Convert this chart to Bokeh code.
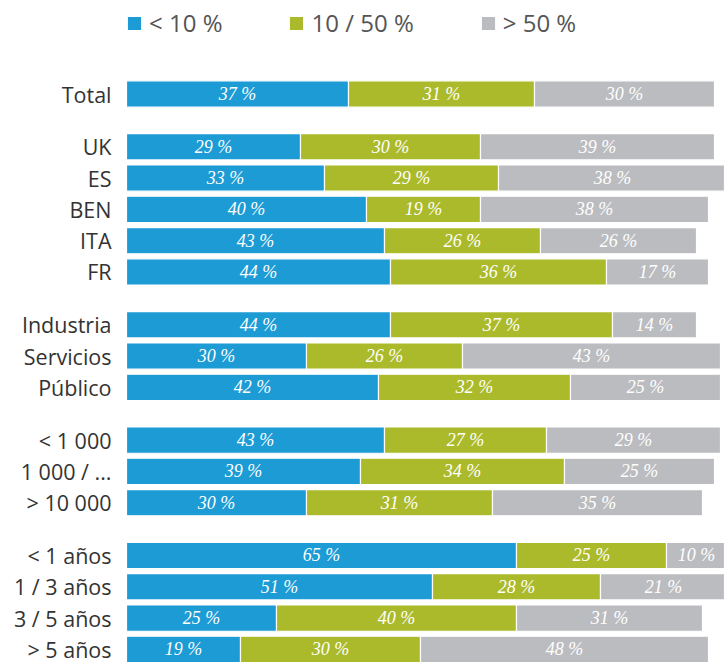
from bokeh.plotting import figure
from bokeh.models import ColumnDataSource, Range1d, Legend, LegendItem
from bokeh.core.properties import value
from bokeh.embed import file_html
from bokeh.resources import INLINE

categories = ["Total", "UK", "ES", "BEN", "ITA", "FR",
              "Industria", "Servicios", "Público",
              "< 1 000", "1 000 / ...", "> 10 000",
              "< 1 años", "1 / 3 años", "3 / 5 años", "> 5 años"]
group_ids = [0, 1, 1, 1, 1, 1, 2, 2, 2, 3, 3, 3, 4, 4, 4, 4]
low = [37, 29, 33, 40, 43, 44, 44, 30, 42, 43, 39, 30, 65, 51, 25, 19]
mid = [31, 30, 29, 19, 26, 36, 37, 26, 32, 27, 34, 31, 25, 28, 40, 30]
high = [30, 39, 38, 38, 26, 17, 14, 43, 25, 29, 25, 35, 10, 21, 31, 48]
series_names = ["< 10 %", "10 / 50 %", "> 50 %"]
colors = ["#1c9bd4", "#abba2b", "#bbbcbf"]

GAP = 0.686
ypos = [i + g * GAP for i, g in enumerate(group_ids)]

l0 = [0] * len(low)
l1 = low
l2 = [a + b for a, b in zip(low, mid)]
r2 = [a + b + c for a, b, c in zip(low, mid, high)]

src = ColumnDataSource(dict(
    y=ypos, cat=categories,
    l0=l0, r0=l1, l1=l1, r1=l2, l2=l2, r2=r2,
    c0=[(a + b) / 2 for a, b in zip(l0, l1)],
    c1=[(a + b) / 2 for a, b in zip(l1, l2)],
    c2=[(a + b) / 2 for a, b in zip(l2, r2)],
    t0=[f"{v} %" for v in low],
    t1=[f"{v} %" for v in mid],
    t2=[f"{v} %" for v in high],
))

W, H = 724, 663
PX = 6.0
LEFT = 126
x_end = (W - LEFT) / PX
x_start = -LEFT / PX
step_px = 31.3
TOP = 93.5
top_units = TOP / step_px
bot_units = (H - TOP - (ypos[-1]) * step_px) / step_px

p = figure(width=W, height=H, output_backend="svg", toolbar_location=None,
           x_range=Range1d(x_start, x_end),
           y_range=Range1d(ypos[-1] + bot_units, -top_units),
           min_border=0, outline_line_color=None)
p.axis.visible = False
p.grid.visible = False
p.background_fill_color = "white"

renderers = []
for k in range(3):
    r = p.hbar(y="y", left=f"l{k}", right=f"r{k}", height=0.84, source=src,
               fill_color=colors[k], line_color="white", line_width=1.2)
    renderers.append(r)
    p.text(x=f"c{k}", y="y", text=f"t{k}", source=src,
           text_align="center", text_baseline="middle",
           text_font=value("Liberation Serif"), text_font_style="italic",
           text_font_size="18px", text_color="white")

p.text(x=0, y="y", text="cat", source=src, x_offset=-15,
       text_align="right", text_baseline="middle",
       text_font=value("Open Sans"), text_font_size="21.5px", text_color="#333333")

legend = Legend(items=[LegendItem(label=series_names[k], renderers=[renderers[k]]) for k in range(3)],
                orientation="horizontal", location=(LEFT - 1, H - 39),
                glyph_width=18, glyph_height=18, label_standoff=6, spacing=65,
                padding=0, margin=0, border_line_color=None, background_fill_alpha=0,
                label_text_font="Open Sans", label_text_font_size="24px",
                label_text_color="#555555")
p.add_layout(legend, "center")

open("out.html", "w").write(file_html(p, INLINE))
